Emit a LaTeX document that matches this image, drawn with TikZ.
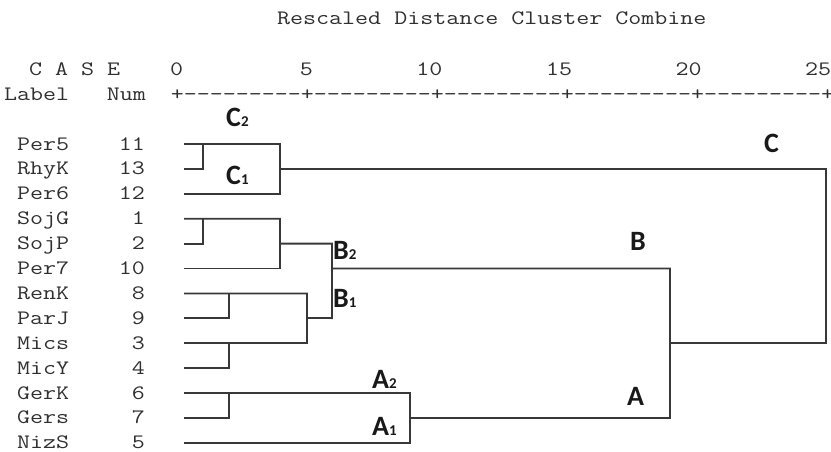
\documentclass[tikz,border=0pt]{standalone}
\usepackage{fontspec}
\newfontfamily\monofont[FakeStretch=1.232]{Latin Modern Mono}
\newfontfamily\labelfont{Carlito}
\definecolor{inkgray}{HTML}{303030}
\definecolor{linegray}{HTML}{383838}
\begin{document}
\begin{tikzpicture}[x=1pt,y=-1pt,
  mono/.style={font=\monofont\fontsize{20.5}{22}\selectfont, text=inkgray, inner sep=0pt},
  casename/.style={mono, anchor=base west},
  casenum/.style={mono, anchor=base east},
  clabel/.style={font=\labelfont\bfseries\fontsize{28}{29}\selectfont, text=black!90, inner sep=0pt, anchor=base west},
  branch/.style={draw=linegray, line width=1.8pt, line cap=rect}]
\useasboundingbox (0,0) rectangle (831,452);

% --- title and header ---
\node[casename] (title) at (277,25) {Rescaled Distance Cluster Combine};
\node[casename] (hcase) at (29,76) {C A S E};
\node[casename] (hlabel) at (4,101) {Label};
\node[casenum] (hnum) at (146,101) {Num};

% --- distance scale ---
\foreach \v [count=\k from 0] in {0,5,10,15,20,25}
  \node[casenum] (tick\k) at (177+129.6*\k+6.45,76) {\v};
\node[casename] (axis) at (170.55,101)
  {+---------+---------+---------+---------+---------+};

% --- case labels and numbers ---
\foreach \nm/\num [count=\i from 0] in
  {Per5/11,RhyK/13,Per6/12,SojG/1,SojP/2,Per7/10,RenK/8,ParJ/9,Mics/3,MicY/4,GerK/6,Gers/7,NizS/5}
{
  \node[casename] (name\num) at (17,150+24.9*\i) {\nm};
  \node[casenum] (num\num) at (145,150+24.9*\i) {\num};
  \coordinate (leaf\num) at (185,144+24.9*\i);
}

% --- join points ---
\coordinate (j1113) at (203,144);     % Per5 + RhyK
\coordinate (jC) at (280,144);        % + Per6
\coordinate (j12) at (203,218.7);     % SojG + SojP
\coordinate (jB2) at (280,218.7);     % + Per7
\coordinate (j89) at (229,293.4);     % RenK + ParJ
\coordinate (j34) at (229,343.2);     % Mics + MicY
\coordinate (jB1) at (307,293.4);     % (8,9) + (3,4)
\coordinate (j67) at (229,393);       % GerK + Gers
\coordinate (jA) at (410,393);        % + NizS
\coordinate (jB) at (332,243.6);      % B2 + B1
\coordinate (jAB) at (670,268.5);     % B + A
\coordinate (jTop) at (826,168.9);    % C + (A,B)

% --- cluster C ---
\draw[branch] (leaf11) -- (jC);
\draw[branch] (leaf13) -| (j1113);
\draw[branch] (leaf12) -| (jC);
\draw[branch] (jC |- leaf13) -- (jTop) -- (jTop |- leaf3);

% --- cluster B ---
\draw[branch] (leaf1) -- (jB2);
\draw[branch] (leaf2) -| (j12);
\draw[branch] (leaf10) -| (jB2);
\draw[branch] (jB2 |- leaf2) -- (jB) -- (jB |- leaf9);
\draw[branch] (leaf8) -- (jB1);
\draw[branch] (leaf9) -| (j89);
\draw[branch] (leaf3) -| (jB1);
\draw[branch] (leaf4) -| (j34);
\draw[branch] (jB1 |- leaf9) -- (jB |- leaf9);
\draw[branch] (jB |- leaf10) -- (jAB);

% --- cluster A ---
\draw[branch] (leaf6) -- (jA);
\draw[branch] (leaf7) -| (j67);
\draw[branch] (leaf5) -| (jA);
\draw[branch] (jA |- leaf7) -- (jAB |- leaf7) -- (jAB);
\draw[branch] (jAB |- leaf3) -- (jTop |- leaf3);

% --- cluster names ---
\node[clabel] (lC2) at (226,127) {C{\fontsize{15}{16}\selectfont 2}};
\node[clabel] (lC1) at (226,184) {C{\fontsize{15}{16}\selectfont 1}};
\node[clabel] (lB2) at (333,259) {B{\fontsize{15}{16}\selectfont 2}};
\node[clabel] (lB1) at (333,307) {B{\fontsize{15}{16}\selectfont 1}};
\node[clabel] (lA2) at (372,388) {A{\fontsize{15}{16}\selectfont 2}};
\node[clabel] (lA1) at (372,435) {A{\fontsize{15}{16}\selectfont 1}};
\node[clabel] (lA) at (627,405) {A};
\node[clabel] (lB) at (630,250) {B};
\node[clabel] (lC) at (764,153) {C};
\end{tikzpicture}
\end{document}
